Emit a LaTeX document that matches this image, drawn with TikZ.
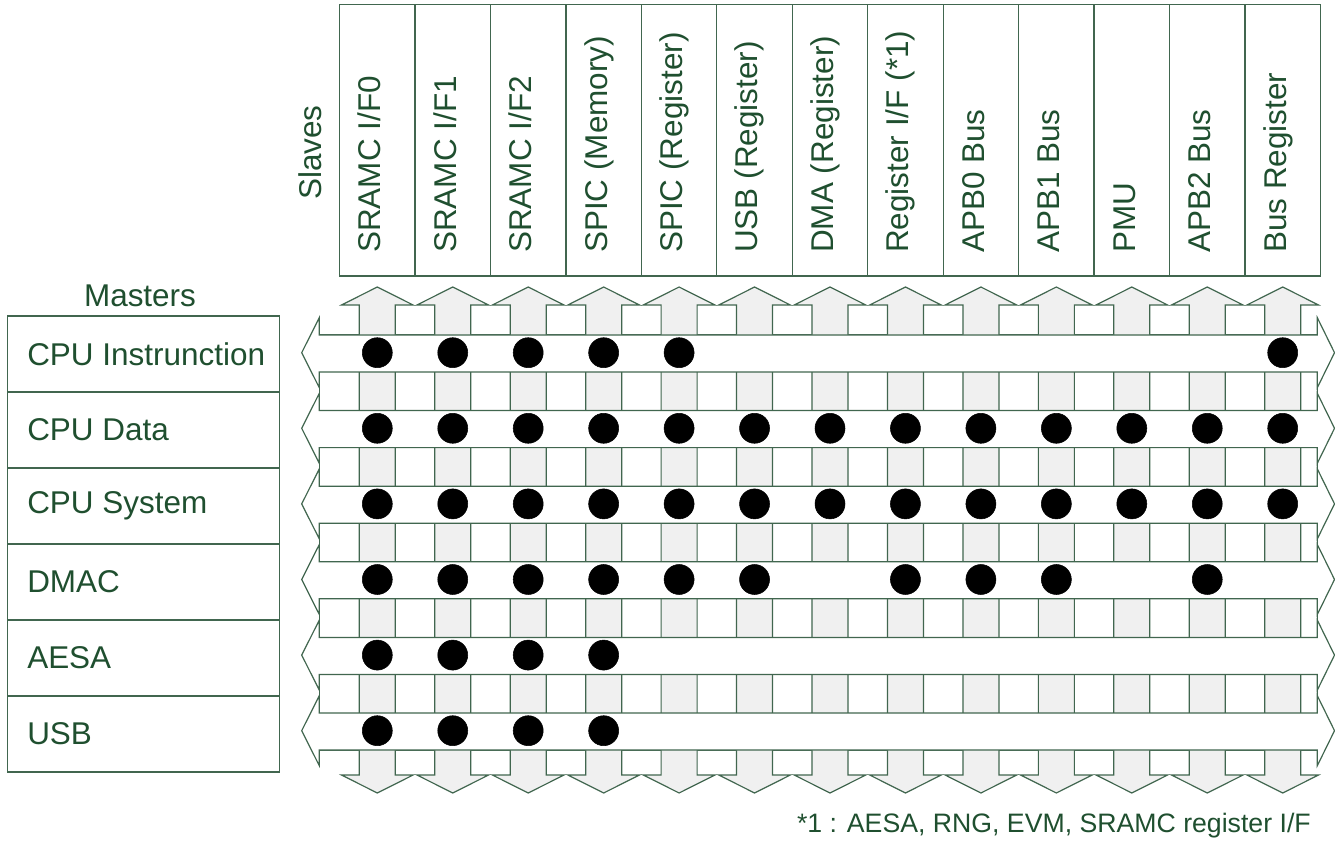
\documentclass[tikz,border=0pt]{standalone}
\usepackage{fontspec}
\setmainfont{Liberation Sans}

\definecolor{busline}{HTML}{41664F}
\definecolor{bustext}{HTML}{1F4F2F}
\definecolor{busgray}{HTML}{F0F0F0}

\tikzset{
	bigfont/.style={font=\fontsize{23.6pt}{28pt}\selectfont, text=bustext},
	slavebox/.style={shape=rectangle, draw=busline, line width=0.9pt, minimum width=56.59pt, minimum height=203.5pt, inner sep=0pt},
	masterbox/.style={shape=rectangle, draw=busline, line width=0.9pt, minimum width=204pt, minimum height=57pt, inner sep=0pt},
	slavetext/.style={bigfont, rotate=90, anchor=west, inner sep=0pt, text height=0.72em, text depth=0.21em},
	mastertext/.style={bigfont, anchor=west, inner sep=0pt},
	vbus/.style={draw=busline, fill=busgray, line width=0.9pt},
	hbus/.style={draw=busline, fill=white, line width=0.9pt},
	dot/.style={shape=circle, draw=black, fill=black, minimum size=22.5pt, inner sep=0pt},
	note/.style={font=\fontsize{20pt}{24pt}\selectfont, text=bustext, inner sep=0pt}
}

\begin{document}
\begin{tikzpicture}[x=0.75pt, y=-0.75pt]
	\useasboundingbox (0,0) rectangle (1335,841);
	% Slaves:
	\node[slavetext, text depth=0pt] (slaves) at (317,200) {Slaves};
	\foreach \name [count=\i] in {SRAMC I/F0, SRAMC I/F1, SRAMC I/F2, SPIC (Memory), SPIC (Register), USB (Register), DMA (Register), Register I/F (*1), APB0 Bus, APB1 Bus, PMU, APB2 Bus, Bus Register}{
		\node[slavebox] (s\i) at ({377.3+75.45*(\i-1)}, 140.4) {};
		\node[slavetext] (st\i) at ({377.3+75.45*(\i-1)}, 253) {\name};
	}
	% Masters:
	\node[bigfont, inner sep=0pt] (masters) at (140,296) {Masters};
	\foreach \name [count=\j] in {CPU Instrunction, CPU Data, CPU System, DMAC, AESA, USB}{
		\node[masterbox] (m\j) at (143.3, {354+76*(\j-1)}) {};
		\node[mastertext] (mt\j) at (27, {354+76*(\j-1)}) {\name};
	}
	% Bus frame and arrows:
	\draw[hbus] (319.3,335) rectangle (1317.3,750);
	\foreach \i in {0,...,12}{
		\pgfmathsetmacro{\cx}{377.3+75.45*\i}
		\draw[vbus] (\cx-18,305) -- (\cx-35.8,305) -- (\cx,287) -- (\cx+35.8,305) -- (\cx+18,305) -- (\cx+18,775) -- (\cx+35.8,775) -- (\cx,793) -- (\cx-35.8,775) -- (\cx-18,775) -- cycle;
	}
	\foreach \j in {0,...,5}{
		\pgfmathsetmacro{\ry}{352.7+75.6*\j}
		\draw[hbus] (319.3,\ry-17.7) -- (1317.3,\ry-17.7) -- (1317.3,\ry-35) -- (1334.5,\ry) -- (1317.3,\ry+35) -- (1317.3,\ry+19.3) -- (319.3,\ry+19.3) -- (319.3,\ry+35) -- (301.7,\ry) -- (319.3,\ry-35) -- cycle;
	}
	% Connections:
	\foreach \j/\cols in {1/{1,2,3,4,5,13}, 2/{1,...,13}, 3/{1,...,13}, 4/{1,2,3,4,5,6,8,9,10,12}, 5/{1,2,3,4}, 6/{1,2,3,4}}
		\foreach \i in \cols
			\node[dot] (d\j-\i) at ({377.3+75.45*(\i-1)}, {352.7+75.6*(\j-1)}) {};
	\node[note, anchor=base east] (note) at (1311,832) {*1 : AESA, RNG, EVM, SRAMC register I/F};
\end{tikzpicture}
\end{document}
